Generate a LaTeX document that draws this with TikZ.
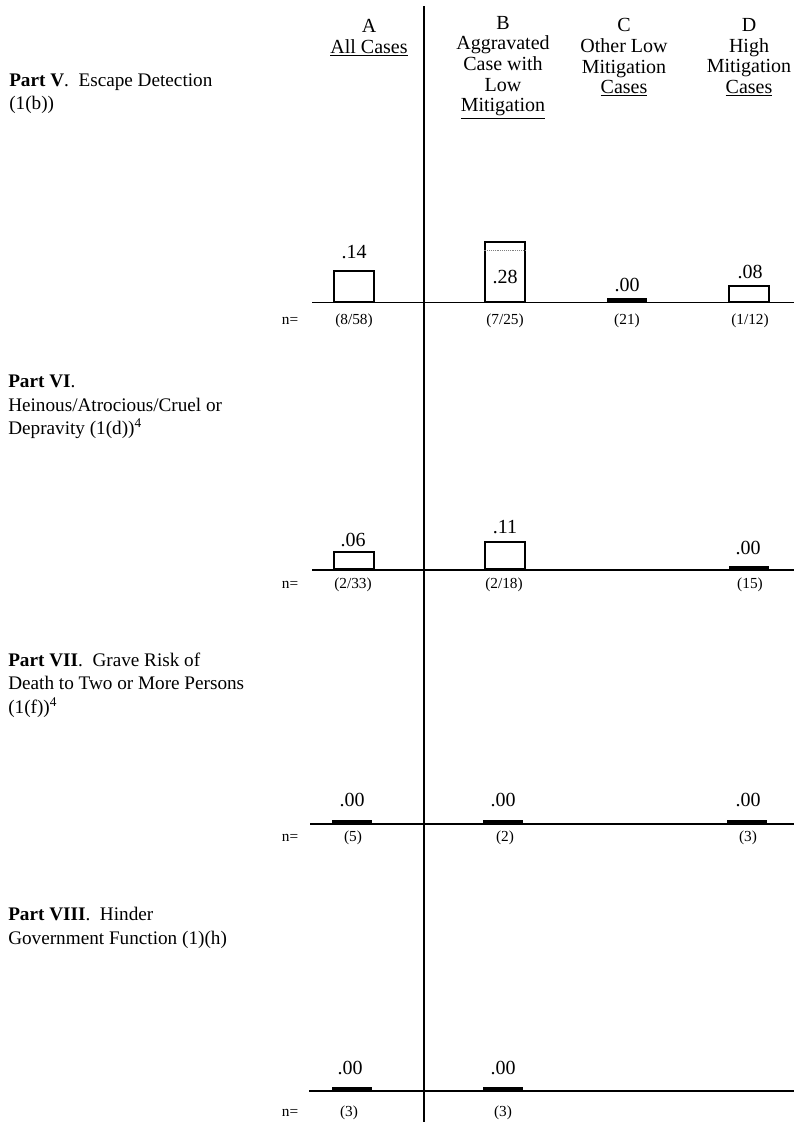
\documentclass[tikz,border=0pt]{standalone}
\usepackage{fontspec}
\setmainfont{Liberation Serif}
\usetikzlibrary{positioning}
\begin{document}
\begin{tikzpicture}
[
    x = 0.75pt, y = -0.75pt,
    head/.style = { align = center, font = \fontsize{15}{15.5}\selectfont, inner sep = 0pt},
    part/.style = { align = left, anchor = west, font = \fontsize{14.4}{17.6}\selectfont, inner sep = 0pt},
    val/.style = { font = \fontsize{15}{15}\selectfont, inner sep = 0pt},
    cnt/.style = { font = \fontsize{11.5}{12}\selectfont, inner sep = 0pt},
    bar/.style = { draw, line width = 1.5pt, minimum width = 30pt, anchor = south, inner sep = 0pt},
    nil/.style = { fill, minimum width = 30pt, minimum height = 3pt, anchor = south, inner sep = 0pt}
]
\useasboundingbox (0,0) rectangle (794,1122);

\node[head] (hA) at (369,37.5) {A\\\underline{All Cases}};
\node[head] (hB) at (503,67.5) {B\\Aggravated\\Case with\\Low\\\underline{Mitigation}};
\node[head] (hC) at (624,57.5) {C\\Other Low\\Mitigation\\\underline{Cases}};
\node[head] (hD) at (749,57.5) {D\\High\\Mitigation\\\underline{Cases}};

\coordinate (top) at (424,6);
\coordinate (bot) at (424,1122);
\draw[line width = 1.3pt] (top) -- (bot);

\node[part] (pV) at (9,93.5) {\textbf{Part V}.\ \ Escape Detection\\(1(b))};
\node[part] (pVI) at (8,407) {\textbf{Part VI}.\\Heinous/Atrocious/Cruel or\\Depravity (1(d))\textsuperscript{4}};
\node[part] (pVII) at (8,685) {\textbf{Part VII}.\ \ Grave Risk of\\Death to Two or More Persons\\(1(f))\textsuperscript{4}};
\node[part] (pVIII) at (8,928) {\textbf{Part VIII}.\ \ Hinder\\Government Function (1)(h)};

\foreach \y/\x in {302.5/312, 570/312, 824/310, 1091/309}
    \draw[line width = 1.1pt] (\x,\y) -- (794,\y);

\node[bar, minimum height = 23.25pt] (aV) at (354,302.5) {};
\node[bar, minimum height = 45pt] (bV) at (504.5,302.5) {};
\node[nil] (cV) at (627,302.5) {};
\node[bar, minimum height = 12pt] (dV) at (749,302.5) {};
\draw[densely dotted, gray] ([yshift = -7.5pt]bV.north west) -- ([yshift = -7.5pt]bV.north east);
\node[val] (vaV) at (354,252) {.14};
\node[val] (vbV) at (505,277) {.28};
\node[val] (vcV) at (627,285) {.00};
\node[val] (vdV) at (750,272) {.08};
\node[cnt] (nV) at (290,321) {n=};
\node[cnt] (naV) at (354,321) {(8/58)};
\node[cnt] (nbV) at (505,321) {(7/25)};
\node[cnt] (ncV) at (627,321) {(21)};
\node[cnt] (ndV) at (750,321) {(1/12)};

\node[bar, minimum height = 12.75pt] (aVI) at (354,570) {};
\node[bar, minimum height = 20.25pt] (bVI) at (504.5,570) {};
\node[nil] (dVI) at (749,570) {};
\node[val] (vaVI) at (353,540) {.06};
\node[val] (vbVI) at (505,527) {.11};
\node[val] (vdVI) at (748,548) {.00};
\node[cnt] (nVI) at (290,585) {n=};
\node[cnt] (naVI) at (353,585) {(2/33)};
\node[cnt] (nbVI) at (504,585) {(2/18)};
\node[cnt] (ndVI) at (750,585) {(15)};

\node[nil] (aVII) at (352,824) {};
\node[nil] (bVII) at (503,824) {};
\node[nil] (dVII) at (747,824) {};
\node[val] (vaVII) at (352,800) {.00};
\node[val] (vbVII) at (503,800) {.00};
\node[val] (vdVII) at (748,800) {.00};
\node[cnt] (nVII) at (290,838) {n=};
\node[cnt] (naVII) at (353,838) {(5)};
\node[cnt] (nbVII) at (505,838) {(2)};
\node[cnt] (ndVII) at (748,838) {(3)};

\node[nil] (aVIII) at (352,1091) {};
\node[nil] (bVIII) at (503,1091) {};
\node[val] (vaVIII) at (350,1068) {.00};
\node[val] (vbVIII) at (503,1068) {.00};
\node[cnt] (nVIII) at (290,1113) {n=};
\node[cnt] (naVIII) at (349,1113) {(3)};
\node[cnt] (nbVIII) at (503,1113) {(3)};
\end{tikzpicture}
\end{document}
